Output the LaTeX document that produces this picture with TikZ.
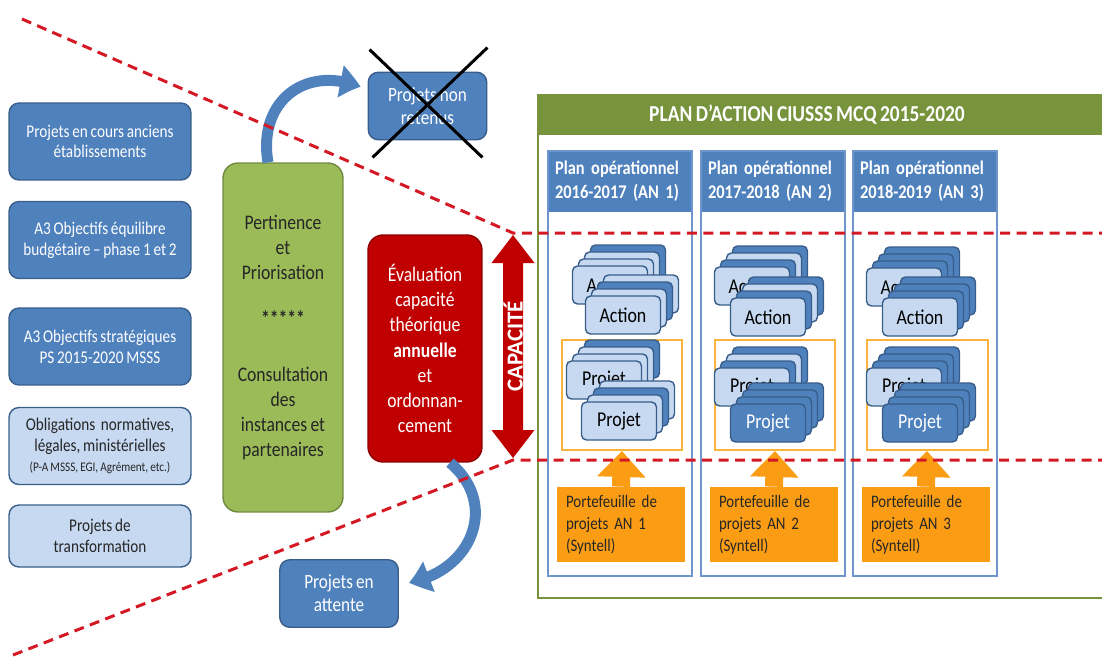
\documentclass[tikz,border=0pt]{standalone}
\usepackage{fontspec}
\setmainfont{Carlito}[FakeStretch=0.85, WordSpace=0.8]
\newfontfamily\capfont{Carlito}
\usetikzlibrary{arrows.meta,bending}
\definecolor{bleu}{RGB}{79,129,189}
\definecolor{bordbleu}{RGB}{56,93,138}
\definecolor{bleuclair}{RGB}{198,217,241}
\definecolor{bleucadre}{RGB}{110,150,205}
\definecolor{vertclair}{RGB}{155,187,89}
\definecolor{vertbord}{RGB}{113,137,63}
\definecolor{vertfonce}{RGB}{119,147,60}
\definecolor{rouge}{RGB}{192,0,0}
\definecolor{rougebord}{RGB}{140,0,0}
\definecolor{tiret}{RGB}{212,24,36}
\definecolor{orange1}{RGB}{250,157,20}
\definecolor{orangecadre}{RGB}{250,180,60}

\begin{document}
\begin{tikzpicture}[x=0.02cm, y=-0.02cm,
    src/.style={rectangle, draw=bordbleu, line width=0.8pt, rounded corners=0.2cm, minimum width=3.64cm, minimum height=1.54cm, align=center, font=\fontsize{10.2}{11.8}\selectfont},
    srcfonce/.style={src, fill=bleu, text=white},
    srcclair/.style={src, fill=bleuclair, text=black!85},
    tri/.style={rectangle, draw=vertbord, line width=0.8pt, fill=vertclair, rounded corners=0.3cm, minimum width=2.4cm, minimum height=6.98cm, align=center, text=black!85, font=\fontsize{11.8}{14.2}\selectfont},
    evalbox/.style={rectangle, draw=rougebord, line width=0.8pt, fill=rouge, rounded corners=0.3cm, minimum width=2.28cm, minimum height=4.54cm, align=center, text=white, font=\fontsize{11.8}{14.4}\selectfont},
    sortie/.style={rectangle, draw=bordbleu, line width=0.8pt, fill=bleu, rounded corners=0.2cm, minimum width=2.37cm, minimum height=1.35cm, align=center, text=white, font=\fontsize{11.5}{13}\selectfont},
    titre/.style={text=white, font=\bfseries\fontsize{13}{14}\selectfont},
    colbox/.style={rectangle, draw=bleucadre, line width=0.04cm, minimum width=2.88cm, minimum height=8.5cm},
    entete/.style={rectangle, fill=bleu, minimum width=2.88cm, minimum height=1.22cm, text width=2.6cm, align=left, text=white, font=\bfseries\fontsize{11}{13.5}\selectfont},
    pjcadre/.style={rectangle, draw=orangecadre, line width=0.04cm, minimum width=2.42cm, minimum height=2.2cm},
    carte/.style={rectangle, draw=bordbleu, line width=0.8pt, rounded corners=0.1cm, minimum width=1.5cm, minimum height=0.76cm, font=\fontsize{12}{13}\selectfont},
    pf/.style={rectangle, fill=orange1, minimum width=2.56cm, minimum height=1.5cm, text width=2.2cm, align=left, text=black!85, font=\fontsize{10}{12.5}\selectfont},
    montee/.style={draw=orange1, line width=0.36cm, -{Triangle[width=0.94cm,length=0.52cm]}},
    courbe/.style={draw=bleu, line width=0.22cm, -{Triangle[width=0.62cm,length=0.42cm,bend]}},
    croix/.style={line width=0.06cm, black},
    tirets/.style={draw=tiret, line width=0.06cm, dash pattern=on 0.2cm off 0.13cm}]
    \useasboundingbox (0,0) rectangle (1102,656);

    % sources a gauche
    \node [srcfonce] (src1) at (100,141.5) {Projets en cours anciens\\établissements};
    \node [srcfonce] (src2) at (100,240) {A3 Objectifs équilibre\\budgétaire -- phase 1 et 2};
    \node [srcfonce] (src3) at (100,346.5) {A3 Objectifs stratégiques\\PS 2015-2020 MSSS};
    \node [srcclair] (src4) at (100,446) {Obligations\ \ normatives,\\légales, ministérielles\\{\fontsize{7.5}{9}\selectfont (P-A MSSS, EGI, Agrément, etc.)}};
    \node [srcclair, minimum height=1.24cm] (src5) at (100,536) {Projets de\\transformation};

    % filtres
    \node [tri] (filtre) at (283,337.5) {Pertinence\\et\\Priorisation\\[0.43cm]\textbf{*****}\\[0.63cm]Consultation\\des\\instances et\\partenaires};
    \node [evalbox] (eval) at (425,348.5) {Évaluation\\capacité\\théorique\\\textbf{annuelle}\\et\\ordonnan-\\cement};
    \node [sortie] (nonret) at (427.5,106) {Projets non\\retenus};
    \node [sortie] (attente) at (339,593.5) {Projets en\\attente};
    \draw [croix] ([shift={(0.04cm,0.44cm)}]nonret.north west) -- ([shift={(-0.1cm,-0.34cm)}]nonret.south east);
    \draw [croix] ([shift={(0cm,0.48cm)}]nonret.north east) -- ([shift={(0.1cm,-0.34cm)}]nonret.south west);
    \draw [courbe] ([xshift=-0.3cm]filtre.north) to[out=100,in=158,looseness=1.3] ([shift={(-0.14cm,0.38cm)}]nonret.west);
    \draw [courbe] ([xshift=0.5cm]eval.south) to[out=-40,in=10,looseness=1.3] ([shift={(0.2cm,0.22cm)}]attente.east);

    % capacite
    \fill [rouge] (513,235) -- (534.5,263) -- (523,263) -- (523,430) -- (534.5,430) -- (513,458)
        -- (491.5,430) -- (503,430) -- (503,263) -- (491.5,263) -- cycle;
    \node [rotate=90, text=white, font=\capfont\bfseries\fontsize{13}{15}\selectfont] (cap) at (513,346.5) {CAPACITÉ};

    % plan d'action
    \fill [vertfonce] (538,95) rectangle (1102,135);
    \draw [vertfonce, line width=0.05cm] (1102,95) -| (538,598) -- (1102,598);
    \node [titre] (plan) at (807,115) {PLAN D’ACTION CIUSSS MCQ 2015-2020};

    \foreach \i/\cx/\an in {1/620/2016-2017, 2/773/2017-2018, 3/925/2018-2019} {
        \node [entete] (hd\i) at (\cx,181.5) {Plan opérationnel\\\an{} (AN \i)};
        \node [colbox] (col\i) at (\cx,363.5) {};
        \node [pjcadre] (pj\i) at (\cx+2,395) {};
        \node [pf] (pf\i) at (\cx+1,524.5) {Portefeuille de\\projets AN \i\\(Syntell)};
        \draw [montee] (pf\i.north) -- (pj\i.south);
    }

    % piles d'actions et de projets
    \foreach \n/\x/\y/\fa/\fb/\fc/\fd/\t/\tc in {
        a1/610/285/bleu/bleuclair/bleuclair/bleuclair/Action/black,
        b1/623/315/bleuclair/bleu/bleuclair/bleuclair/Action/black,
        c1/604/380/bleu/bleuclair/bleuclair/bleuclair/Projet/black,
        d1/619/421/bleuclair/bleu/bleuclair/bleuclair/Projet/black,
        a2/752/286/bleu/bleuclair/bleu/bleuclair/Action/black,
        b2/768/317/bleu/bleuclair/bleu/bleuclair/Action/black,
        c2/752/387/bleu/bleuclair/bleu/bleuclair/Projet/black,
        d2/768/423/bleu/bleu/bleu/bleu/Projet/white,
        a3/904/287/bleu/bleu/bleu/bleuclair/Action/black,
        b3/920/317/bleu/bleu/bleu/bleuclair/Action/black,
        c3/904/387/bleu/bleu/bleu/bleuclair/Projet/black,
        d3/920/423/bleu/bleu/bleu/bleu/Projet/white} {
        \node [carte, fill=\fa] (\n-3) at (\x+18,\y-21) {};
        \node [carte, fill=\fb] (\n-2) at (\x+12,\y-14) {};
        \node [carte, fill=\fc] (\n-1) at (\x+6,\y-7) {};
        \node [carte, fill=\fd, text=\tc] (\n-0) at (\x,\y) {\t};
    }

    % lignes de capacite
    \coordinate (hg) at (22,19);
    \coordinate (bg) at (13,655);
    \coordinate (ch) at (513,233);
    \coordinate (cb) at (513,460);
    \coordinate (hd) at (1102,233);
    \coordinate (bd) at (1102,460);
    \draw [tirets] (hg) -- (ch) -- (hd);
    \draw [tirets] (bg) -- (cb) -- (bd);
\end{tikzpicture}
\end{document}
